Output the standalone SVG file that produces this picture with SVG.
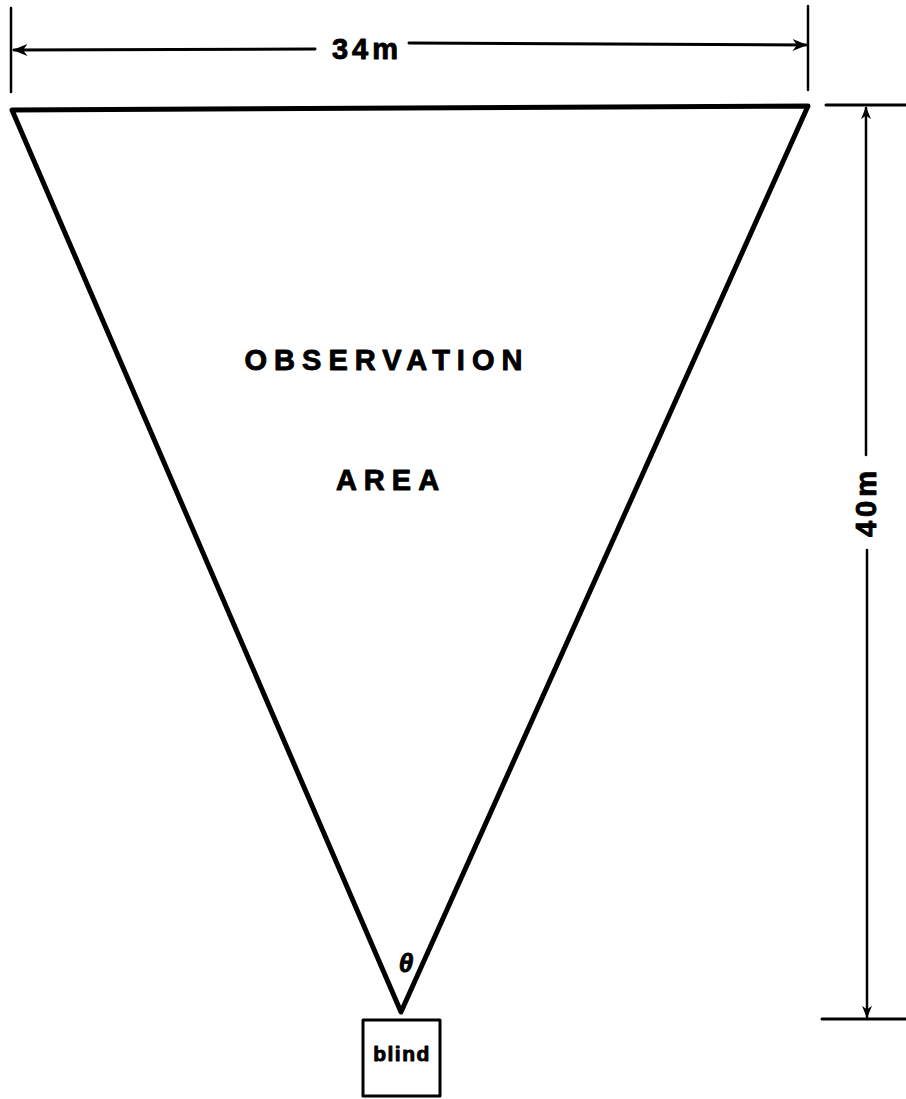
<svg xmlns="http://www.w3.org/2000/svg" width="906" height="1099" viewBox="0 0 906 1099">
<style>
.ln{stroke:#000;fill:none;stroke-linecap:round;stroke-linejoin:round}
.t{font-family:"Liberation Sans",Arial,sans-serif;font-weight:bold;fill:#000;stroke:#000;stroke-width:0.9;stroke-linejoin:round}
</style>
<defs>
<marker id="ah" viewBox="0 0 10 10" refX="9" refY="5" markerWidth="5" markerHeight="5" orient="auto-start-reverse" markerUnits="strokeWidth">
<path d="M0,1 L10,5 L0,9 L3,5 Z" fill="#000"/>
</marker>
</defs>
<rect width="906" height="1099" fill="#fff"/>
<g id="area">
<path class="ln" d="M12,110 L808,106 L401,1012 Z" stroke-width="5"/>
<text class="t" x="387" y="370" font-size="29" text-anchor="middle" letter-spacing="7">OBSERVATION</text>
<text class="t" x="391" y="490" font-size="29" text-anchor="middle" letter-spacing="7">AREA</text>
<text class="t" x="406" y="972" font-size="26" font-style="italic" text-anchor="middle">θ</text>
</g>
<g id="blind">
<rect class="ln" x="363" y="1020" width="77" height="76" stroke-width="3"/>
<text class="t" x="402" y="1061" font-size="21" stroke-width="0.5" text-anchor="middle" letter-spacing="1.5">blind</text>
</g>
<g id="connectors">
<line class="ln" x1="11" y1="8" x2="11" y2="92" stroke-width="2.5"/>
<line class="ln" x1="808" y1="6" x2="808" y2="90" stroke-width="2.5"/>
<line class="ln" x1="315" y1="49" x2="14" y2="50" stroke-width="3" marker-end="url(#ah)"/>
<line class="ln" x1="409" y1="43" x2="806" y2="45" stroke-width="3" marker-end="url(#ah)"/>
<line class="ln" x1="826" y1="105" x2="906" y2="105" stroke-width="3"/>
<line class="ln" x1="822" y1="1019" x2="906" y2="1019" stroke-width="3"/>
<line class="ln" x1="866" y1="455" x2="866" y2="108" stroke-width="2.5" marker-end="url(#ah)"/>
<line class="ln" x1="867" y1="550" x2="867" y2="1017" stroke-width="2.5" marker-end="url(#ah)"/>
</g>
<g id="labels">
<text class="t" x="367" y="59" font-size="29" text-anchor="middle" letter-spacing="4">34m</text>
<text class="t" transform="translate(876,502) rotate(-90)" x="0" y="0" font-size="29" text-anchor="middle" letter-spacing="4">40m</text>
</g>
</svg>
